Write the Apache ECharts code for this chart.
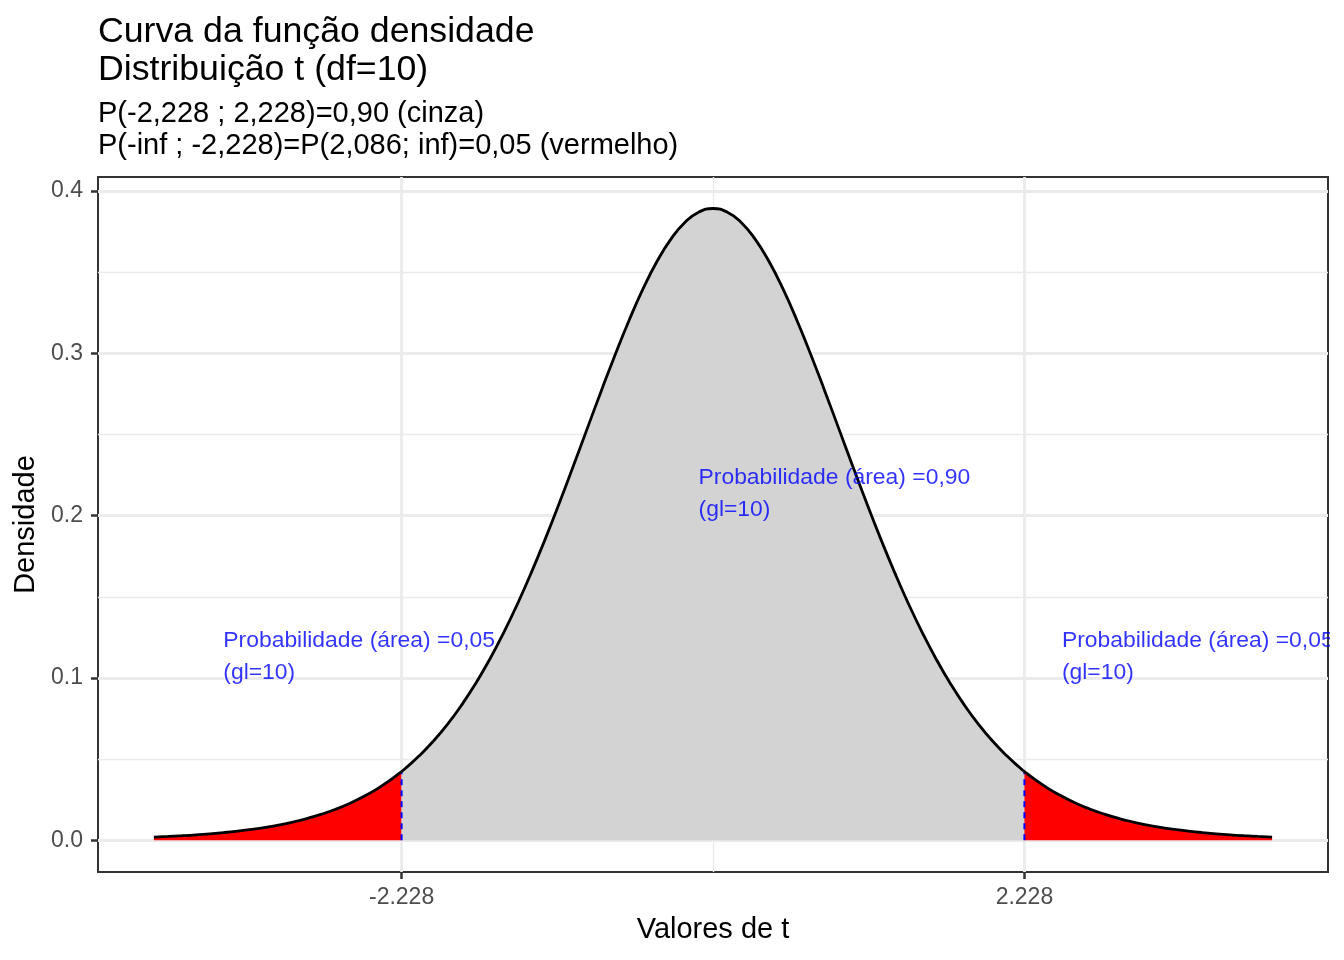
<!DOCTYPE html>
<html>
<head>
<meta charset="utf-8">
<script src="https://cdn.jsdelivr.net/npm/echarts@6/dist/echarts.min.js"></script>
<style>
html,body{margin:0;padding:0;background:#fff;}
#chart{width:1344px;height:960px;}
</style>
</head>
<body>
<div id="chart"></div>
<script>
// ---- data (t density, df = 10) ----
const tValues = [
 -4.0,-3.9,-3.8,-3.7,-3.6,-3.5,-3.4,-3.3,-3.2,-3.1,
 -3.0,-2.9,-2.8,-2.7,-2.6,-2.5,-2.4,-2.3,-2.2,-2.1,
 -2.0,-1.9,-1.8,-1.7,-1.6,-1.5,-1.4,-1.3,-1.2,-1.1,
 -1.0,-0.9,-0.8,-0.7,-0.6,-0.5,-0.4,-0.3,-0.2,-0.1,
 0.0,
 0.1,0.2,0.3,0.4,0.5,0.6,0.7,0.8,0.9,1.0,
 1.1,1.2,1.3,1.4,1.5,1.6,1.7,1.8,1.9,2.0,
 2.1,2.2,2.3,2.4,2.5,2.6,2.7,2.8,2.9,3.0,
 3.1,3.2,3.3,3.4,3.5,3.6,3.7,3.8,3.9,4.0
];
const density = [
 0.00203,0.00241,0.00286,0.00339,0.00403,0.00478,0.00569,0.00677,0.00805,0.00958,
 0.01140,0.01356,0.01612,0.01915,0.02273,0.02694,0.03188,0.03766,0.04439,0.05217,
 0.06114,0.07142,0.08312,0.09632,0.11108,0.12745,0.14539,0.16485,0.18566,0.20761,
 0.23036,0.25354,0.27662,0.29909,0.32033,0.33970,0.35658,0.37040,0.38066,0.38698,
 0.38911,
 0.38698,0.38066,0.37040,0.35658,0.33970,0.32033,0.29909,0.27662,0.25354,0.23036,
 0.20761,0.18566,0.16485,0.14539,0.12745,0.11108,0.09632,0.08312,0.07142,0.06114,
 0.05217,0.04439,0.03766,0.03188,0.02694,0.02273,0.01915,0.01612,0.01356,0.01140,
 0.00958,0.00805,0.00677,0.00569,0.00478,0.00403,0.00339,0.00286,0.00241,0.00203
];
const critLow = -2.228;
const critHigh = 2.228;
const critDensity = 0.0424;

const xTicks = [-2.228, 2.228];
const xMinorBreaks = [0];
const yTicks = [0, 0.1, 0.2, 0.3, 0.4];
const yMinorBreaks = [0.05, 0.15, 0.25, 0.35];

const annotX = [-3.5, -0.1, 2.5];
const annotY = [0.1, 0.2, 0.1];
const annotLabels = [
 'Probabilidade (área) =0,05\n(gl=10)',
 'Probabilidade (área) =0,90\n(gl=10)',
 'Probabilidade (área) =0,05\n(gl=10)'
];

const titleText = 'Curva da função densidade\nDistribuição t (df=10)';
const subtitleText = 'P(-2,228 ; 2,228)=0,90 (cinza)\nP(-inf ; -2,228)=P(2,086; inf)=0,05 (vermelho)';
const xName = 'Valores de t';
const yName = 'Densidade';

// ---- build series data ----
const pts = tValues.map((t, i) => [t, density[i]]);
const leftTail = pts.filter(p => p[0] < critLow).concat([[critLow, critDensity]]);
const middle = [[critLow, critDensity]].concat(pts.filter(p => p[0] > critLow && p[0] < critHigh)).concat([[critHigh, critDensity]]);
const rightTail = [[critHigh, critDensity]].concat(pts.filter(p => p[0] > critHigh));
const fullCurve = leftTail.concat(middle.slice(1)).concat(rightTail.slice(1));

const FONT = '"Liberation Sans", Arial, Helvetica, sans-serif';

const gridLines = []
 .concat(xTicks.map(v => ({xAxis: v, lineStyle: {width: 2.8}})))
 .concat(xMinorBreaks.map(v => ({xAxis: v, lineStyle: {width: 1.4}})))
 .concat(yTicks.map(v => ({yAxis: v, lineStyle: {width: 2.8}})))
 .concat(yMinorBreaks.map(v => ({yAxis: v, lineStyle: {width: 1.4}})));

const SMOOTH = 0.5;

const chart = echarts.init(document.getElementById('chart'), null, {renderer: 'canvas'});
chart.setOption({
 animation: false,
 backgroundColor: '#ffffff',
 textStyle: {fontFamily: FONT},
 title: [
  {text: titleText, left: 98, top: 13, padding: 0,
   textStyle: {fontSize: 35.7, lineHeight: 38, fontWeight: 'normal', color: '#000', fontFamily: FONT}},
  {text: subtitleText, left: 98, top: 98, padding: 0,
   textStyle: {fontSize: 29, lineHeight: 32, fontWeight: 'normal', color: '#000', fontFamily: FONT}}
 ],
 grid: {left: 98, right: 16, top: 177, bottom: 88, show: true, borderColor: '#333333', borderWidth: 2, backgroundColor: 'transparent'},
 xAxis: {
  type: 'value', min: -4.4, max: 4.4,
  axisLine: {show: false, onZero: false},
  splitLine: {show: false},
  axisTick: {show: true, customValues: xTicks, length: 7, lineStyle: {color: '#333333', width: 2.5}},
  axisLabel: {customValues: xTicks, fontSize: 23, color: '#4D4D4D', margin: 14, fontFamily: FONT,
   formatter: v => String(v)},
  name: xName, nameLocation: 'middle', nameGap: 43,
  nameTextStyle: {fontSize: 29, color: '#000', fontFamily: FONT}
 },
 yAxis: {
  type: 'value', min: -0.0195, max: 0.4085,
  axisLine: {show: false, onZero: false},
  splitLine: {show: false},
  axisTick: {show: true, customValues: yTicks, length: 7, lineStyle: {color: '#333333', width: 2.5}},
  axisLabel: {customValues: yTicks, fontSize: 23, color: '#4D4D4D', margin: 15, fontFamily: FONT,
   padding: [5, 0, 0, 0],
   formatter: v => Number(v).toFixed(1)},
  name: yName, nameLocation: 'middle', nameGap: 55, nameRotate: 90,
  nameTextStyle: {fontSize: 29, color: '#000', fontFamily: FONT}
 },
 graphic: [
  {type: 'rect', left: 1330, top: 600, shape: {width: 14, height: 100}, style: {fill: '#ffffff'}, z: 100}
 ],
 series: [
  {type: 'line', data: [], z: 0, silent: true,
   markLine: {silent: true, symbol: 'none', z: 0, label: {show: false},
    lineStyle: {color: '#EBEBEB', type: 'solid'}, emphasis: {disabled: true},
    data: gridLines}},
  {type: 'line', data: leftTail, smooth: SMOOTH, showSymbol: false, symbol: 'none', lineStyle: {width: 0}, areaStyle: {color: '#FF0000', opacity: 1}, z: 2, silent: true},
  {type: 'line', data: middle, smooth: SMOOTH, showSymbol: false, symbol: 'none', lineStyle: {width: 0}, areaStyle: {color: '#D3D3D3', opacity: 1}, z: 2, silent: true},
  {type: 'line', data: rightTail, smooth: SMOOTH, showSymbol: false, symbol: 'none', lineStyle: {width: 0}, areaStyle: {color: '#FF0000', opacity: 1}, z: 2, silent: true},
  {type: 'line', data: [[critLow, 0], [critLow, critDensity]], symbol: 'none', lineStyle: {color: '#0000FF', width: 2, type: [6, 5]}, z: 3, silent: true},
  {type: 'line', data: [[critHigh, 0], [critHigh, critDensity]], symbol: 'none', lineStyle: {color: '#0000FF', width: 2, type: [6, 5]}, z: 3, silent: true},
  {type: 'line', data: fullCurve, smooth: SMOOTH, symbol: 'none', lineStyle: {color: '#000000', width: 2.8}, z: 4, silent: true},
  {type: 'scatter', data: annotX.map((x, i) => [x, annotY[i]]), symbolSize: 1, itemStyle: {color: 'rgba(0,0,0,0)'}, z: 5, silent: true,
   label: {show: true, position: [0, 0], align: 'left', verticalAlign: 'bottom', offset: [0, 11],
    fontSize: 22.9, lineHeight: 32, color: '#0000FF', fontFamily: FONT,
    formatter: p => annotLabels[p.dataIndex]}}
 ]
});
</script>
</body>
</html>
